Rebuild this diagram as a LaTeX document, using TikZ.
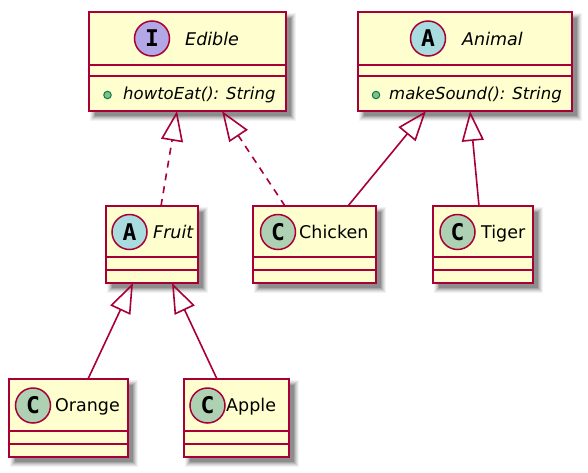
\documentclass[tikz,border=0pt]{standalone}
\usepackage{fontspec}
\setmainfont{DejaVu Sans}
\newfontfamily\circfont{DejaVu Sans Mono}
\usetikzlibrary{arrows.meta,calc}
\definecolor{umlred}{HTML}{A80036}
\definecolor{umlfill}{HTML}{FEFECE}
\definecolor{ifc}{HTML}{B4A7E5}
\definecolor{absc}{HTML}{A9DCDF}
\definecolor{clsc}{HTML}{ADD1B2}
\definecolor{dotfill}{HTML}{84BE84}
\definecolor{dotdraw}{HTML}{038048}
\tikzset{
 umlbox/.style={draw=umlred, fill=umlfill, line width=2.3pt, rectangle, inner sep=0pt, outer sep=0pt},
 cname/.style={anchor=base west, inner sep=0pt, font=\fontsize{17.5}{20}\selectfont},
 aname/.style={anchor=base west, inner sep=0pt, font=\fontsize{17.5}{20}\selectfont\itshape},
 meth/.style={anchor=base west, inner sep=0pt, font=\fontsize{16.5}{19}\selectfont\itshape},
 circ/.style={circle, draw=umlred, line width=1.5pt, minimum size=35pt, inner sep=0pt, font=\circfont\bfseries\fontsize{23}{23}\selectfont},
 pubdot/.style={circle, draw=dotdraw, fill=dotfill, line width=1pt, minimum size=7.5pt, inner sep=0pt},
 gen/.style={draw=umlred, line width=1.6pt, -{Triangle[open, length=30pt, width=22pt]}},
 realz/.style={gen, dash pattern=on 7pt off 6pt},
}
\newcommand\umlclass[7]{%
 \foreach \s/\o in {5/0.05,4/0.06,3/0.08,2/0.1,1/0.12,0/0.15}{\fill[black,opacity=\o] (#2+6-\s,#3+6-\s) rectangle (#4+5+\s,#5+5+\s);}
 \node[umlbox, minimum width=#4-#2, minimum height=#5-#3] (#1) at ({(#2+#4)/2},{(#3+#5)/2}) {};
 \draw[umlred, line width=2.3pt] (#2,#6) -- (#4,#6);
 \draw[umlred, line width=2.3pt] (#2,#7) -- (#4,#7);
}
\begin{document}
\begin{tikzpicture}[x=1pt,y=-1pt]
\useasboundingbox (0,0) rectangle (588,472);
% boxes
\umlclass{edible}{89}{12}{286}{111}{65}{76}
\umlclass{animal}{358}{12}{572}{111}{65}{76}
\umlclass{fruit}{106}{206}{198}{283}{257}{270}
\umlclass{chicken}{253}{206}{376}{283}{257}{270}
\umlclass{tiger}{433}{206}{533}{283}{257}{270}
\umlclass{orange}{9}{379}{128}{457}{431}{444}
\umlclass{apple}{184}{379}{289}{457}{431}{444}
% headers
\node[circ, fill=ifc] (edibleC) at (152,38.5) {I};
\node[aname] (edibleN) at (185,45) {Edible};
\node[pubdot] (edibleD) at (107.5,95) {};
\node[meth] (edibleM) at (123,99.5) {howtoEat(): String};
\node[circ, fill=absc] (animalC) at (428,38.5) {A};
\node[aname] (animalN) at (462,45) {Animal};
\node[pubdot] (animalD) at (376,95) {};
\node[meth] (animalM) at (389,99.5) {makeSound(): String};
\node[circ, fill=absc] (fruitC) at (129.5,232) {A};
\node[aname] (fruitN) at (153,238.5) {Fruit};
\node[circ, fill=clsc] (chickenC) at (278,232) {C};
\node[cname] (chickenN) at (299,238.5) {Chicken};
\node[circ, fill=clsc] (tigerC) at (457.5,232) {C};
\node[cname] (tigerN) at (481,238.5) {Tiger};
\node[circ, fill=clsc] (orangeC) at (33,405.5) {C};
\node[cname] (orangeN) at (55,411.5) {Orange};
\node[circ, fill=clsc] (appleC) at (207.5,405.5) {C};
\node[cname] (appleN) at (226,411.5) {Apple};
% connectors
\draw[realz] ([xshift=9]fruit.north) -- ([xshift=-10.5]edible.south);
\draw[realz] ([xshift=-29.5]chicken.north) -- ([xshift=34.5]edible.south);
\draw[gen] ([xshift=33.5]chicken.north) -- ([xshift=-39]animal.south);
\draw[gen] ([xshift=-4]tiger.north) -- ([xshift=5]animal.south);
\draw[gen] ([xshift=19.5]orange.north) -- ([xshift=-19]fruit.south);
\draw[gen] ([xshift=-19.5]apple.north) -- ([xshift=20]fruit.south);
\end{tikzpicture}
\end{document}
